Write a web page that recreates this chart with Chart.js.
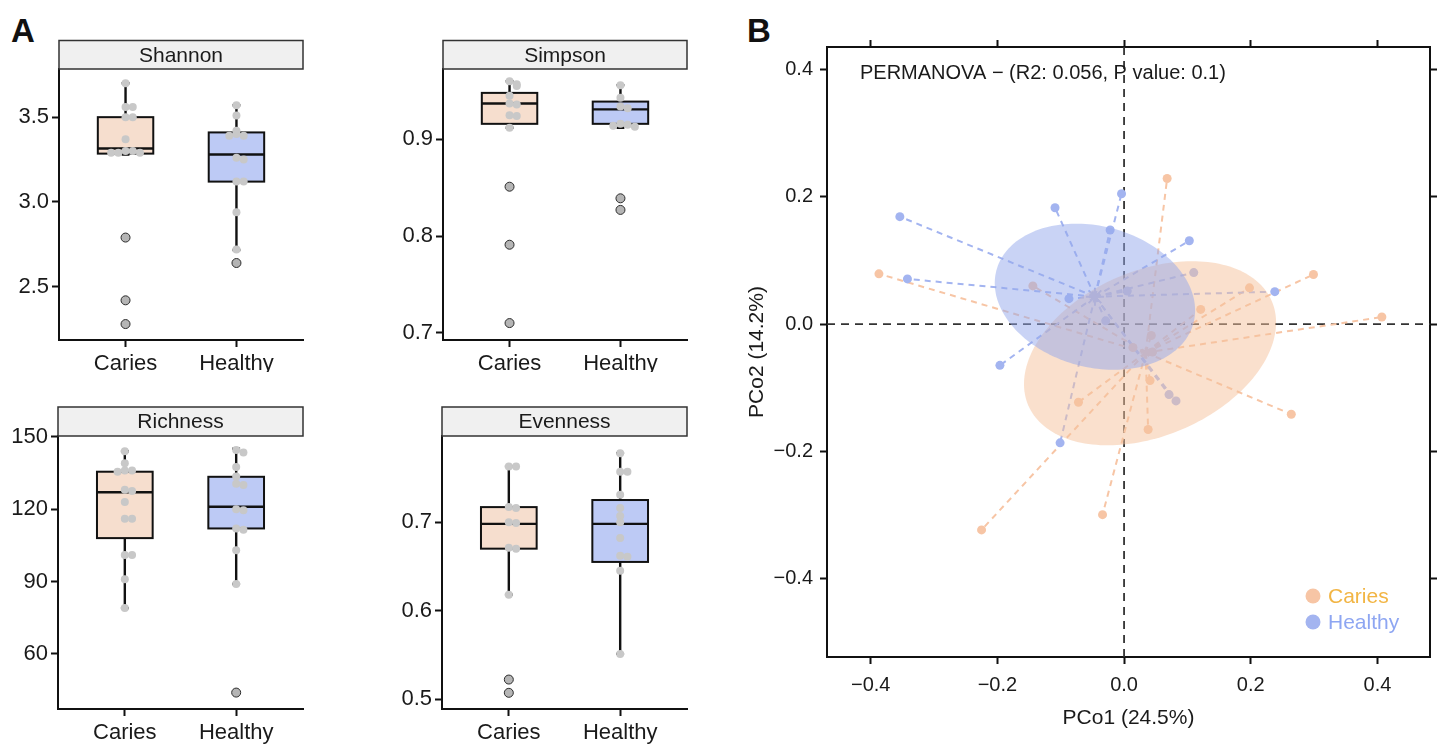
<!DOCTYPE html>
<html>
<head>
<meta charset="utf-8">
<title>Alpha diversity and PCoA</title>
<script src="https://cdn.jsdelivr.net/npm/chart.js"></script>
<style>
  body { margin: 0; background: #fff; width: 1441px; height: 744px; position: relative; overflow: hidden; font-family: "Liberation Sans", Arial, sans-serif; }
  canvas { position: absolute; }
  .tag { position: absolute; font-weight: bold; font-size: 33px; line-height: 1; color: #111; }
</style>
</head>
<body>
<div class="tag" style="left:11px; top:14px;">A</div>
<div class="tag" style="left:747px; top:14px;">B</div>
<canvas id="shannon" width="320" height="372" style="left:0; top:0;"></canvas>
<canvas id="simpson" width="320" height="372" style="left:384px; top:0;"></canvas>
<canvas id="richness" width="320" height="372" style="left:0; top:372px;"></canvas>
<canvas id="evenness" width="320" height="372" style="left:384px; top:372px;"></canvas>
<canvas id="pcoa" width="701" height="744" style="left:740px; top:0;"></canvas>
<script>
    // ---- panel A data: box stats are [lower whisker, Q1, median, Q3, upper whisker]
    const groups = ['Caries', 'Healthy'];

    const shannonTicks = [2.5, 3.0, 3.5];
    const shannonRange = [2.186, 3.784];
    const shannonBox = [[3.28, 3.285, 3.315, 3.50, 3.70], [2.717, 3.12, 3.28, 3.41, 3.57]];
    const shannonCaries = [3.70, 3.56, 3.56, 3.50, 3.50, 3.37, 3.30, 3.30, 3.29, 3.29, 3.29];
    const shannonHealthy = [3.57, 3.51, 3.42, 3.40, 3.39, 3.39, 3.26, 3.25, 3.12, 3.12, 2.94, 2.72];
    const shannonOutCaries = [2.79, 2.42, 2.28];
    const shannonOutHealthy = [2.64];

    const simpsonTicks = [0.7, 0.8, 0.9];
    const simpsonRange = [0.6925, 0.9727];
    const simpsonBox = [[0.912, 0.916, 0.937, 0.948, 0.960], [0.912, 0.916, 0.931, 0.939, 0.956]];
    const simpsonCaries = [0.960, 0.957, 0.955, 0.945, 0.937, 0.936, 0.925, 0.924, 0.912];
    const simpsonHealthy = [0.956, 0.943, 0.934, 0.932, 0.916, 0.915, 0.914, 0.913];
    const simpsonOutCaries = [0.851, 0.791, 0.710];
    const simpsonOutHealthy = [0.839, 0.827];

    const richnessTicks = [60, 90, 120, 150];
    const richnessRange = [37.2, 150.3];
    const richnessBox = [[79, 108, 127, 135.5, 144], [89, 112, 121, 133.4, 145]];
    const richnessCaries = [144, 139, 136, 136, 135.5, 128, 127.5, 123, 116, 116, 101, 101, 91, 79];
    const richnessHealthy = [144.5, 143.5, 137.5, 133.5, 130.5, 130, 120, 119.5, 112, 111.5, 103, 89];
    const richnessOutCaries = [];
    const richnessOutHealthy = [44];

    const evennessTicks = [0.5, 0.6, 0.7];
    const evennessRange = [0.4887, 0.7974];
    const evennessBox = [[0.618, 0.670, 0.698, 0.717, 0.763], [0.551, 0.655, 0.698, 0.725, 0.778]];
    const evennessCaries = [0.763, 0.763, 0.717, 0.716, 0.700, 0.699, 0.671, 0.670, 0.618];
    const evennessHealthy = [0.778, 0.757, 0.757, 0.731, 0.716, 0.707, 0.700, 0.682, 0.662, 0.661, 0.645, 0.551];
    const evennessOutCaries = [0.522, 0.507];
    const evennessOutHealthy = [];

    // ---- panel B data
    const pcoTicks = [-0.4, -0.2, 0.0, 0.2, 0.4];
    const pcoXRange = [-0.469, 0.483];
    const pcoYRange = [-0.524, 0.436];
    const cariesX = [-0.387, -0.144, 0.068, 0.299, 0.198, 0.121, 0.407, 0.043, 0.014, 0.045, 0.041, -0.072, 0.264, 0.038, -0.034, -0.225];
    const cariesY = [0.079, 0.060, 0.229, 0.078, 0.057, 0.023, 0.011, -0.018, -0.037, -0.044, -0.089, -0.123, -0.142, -0.166, -0.300, -0.324];
    const healthyX = [-0.354, -0.342, -0.109, -0.004, -0.022, 0.103, 0.110, 0.238, 0.005, -0.087, -0.029, -0.196, 0.071, 0.082, -0.101];
    const healthyY = [0.169, 0.071, 0.183, 0.205, 0.148, 0.131, 0.081, 0.051, 0.052, 0.040, 0.005, -0.065, -0.111, -0.121, -0.187];
    const centroidX = [0.034, -0.046];
    const centroidY = [-0.045, 0.043];
    // ellipse: [centre x, centre y, semi-major, semi-minor, angle in degrees]
    const ellipses = [[0.041, -0.046, 0.209, 0.130, 23], [-0.046, 0.043, 0.161, 0.111, -15]];
    const permanovaText = 'PERMANOVA \u2212 (R2: 0.056, P value: 0.1)';

    const FONT = '"Liberation Sans", Arial, sans-serif';
    const boxFill = ['#F6DECE', '#BDCAF5'];
    const dotColor = ['#F7C5A5', '#A3B4F0'];
    const ellipseColor = ['rgba(245,193,155,0.5)', 'rgba(147,167,235,0.5)'];
    const legendText = ['#F2B544', '#8EA6F2'];

    function swarm(vals, gi, tol) {
        const placed = [];
        return vals.map(v => {
            const n = placed.filter(p => Math.abs(p - v) < tol).length;
            placed.push(v);
            const k = n === 0 ? 0 : (n % 2 ? 1 : -1) * Math.ceil(n / 2);
            return {x: gi + k * 0.065, y: v};
        });
    }

    function boxPanel(id, title, ticks, digits, range, box, pts, outs, lay) {
        const tol = (range[1] - range[0]) * 0.012;
        const dots = swarm(pts[0], 0, tol).concat(swarm(pts[1], 1, tol));
        const outDots = outs[0].map(v => ({x: 0, y: v})).concat(outs[1].map(v => ({x: 1, y: v})));

        const boxPlugin = {
            id: 'box_' + id,
            beforeDatasetsDraw(chart) {
                const {ctx, scales: {x, y}} = chart;
                ctx.save();
                box.forEach((b, gi) => {
                    const [lo, q1, med, q3, hi] = b;
                    const xc = x.getPixelForValue(gi);
                    const half = x.getPixelForValue(gi + 0.25) - xc;
                    const cap = x.getPixelForValue(gi + 0.035) - xc;
                    ctx.strokeStyle = '#111';
                    ctx.lineWidth = 2.4;
                    ctx.beginPath();
                    ctx.moveTo(xc, y.getPixelForValue(hi));
                    ctx.lineTo(xc, y.getPixelForValue(q3));
                    ctx.moveTo(xc, y.getPixelForValue(q1));
                    ctx.lineTo(xc, y.getPixelForValue(lo));
                    ctx.moveTo(xc - cap, y.getPixelForValue(hi));
                    ctx.lineTo(xc + cap, y.getPixelForValue(hi));
                    ctx.moveTo(xc - cap, y.getPixelForValue(lo));
                    ctx.lineTo(xc + cap, y.getPixelForValue(lo));
                    ctx.stroke();
                    const top = y.getPixelForValue(q3);
                    const bot = y.getPixelForValue(q1);
                    ctx.fillStyle = boxFill[gi];
                    ctx.fillRect(xc - half, top, half * 2, bot - top);
                    ctx.lineWidth = 2;
                    ctx.strokeRect(xc - half, top, half * 2, bot - top);
                    ctx.lineWidth = 2.4;
                    ctx.beginPath();
                    ctx.moveTo(xc - half, y.getPixelForValue(med));
                    ctx.lineTo(xc + half, y.getPixelForValue(med));
                    ctx.stroke();
                });
                ctx.restore();
            },
            afterDraw(chart) {
                const {ctx, chartArea: a} = chart;
                ctx.save();
                ctx.fillStyle = '#F0F0F0';
                ctx.strokeStyle = '#333';
                ctx.lineWidth = 1.5;
                ctx.fillRect(a.left, a.top - lay.strip, a.right - a.left, lay.strip);
                ctx.strokeRect(a.left, a.top - lay.strip, a.right - a.left, lay.strip);
                ctx.fillStyle = '#1a1a1a';
                ctx.font = '21px ' + FONT;
                ctx.textAlign = 'center';
                ctx.textBaseline = 'middle';
                ctx.fillText(title, (a.left + a.right) / 2, a.top - lay.strip / 2 + 1);
                ctx.restore();
            }
        };

        const axisGrid = {drawOnChartArea: false, drawTicks: true, tickLength: 7, tickWidth: 2, tickColor: '#111', color: '#111'};
        const axisBorder = {display: true, color: '#111', width: 2};

        return new Chart(document.getElementById(id), {
            type: 'scatter',
            data: {
                datasets: [{
                    data: dots,
                    backgroundColor: '#C8C8C8',
                    borderWidth: 0,
                    pointRadius: 4
                }, {
                    data: outDots,
                    backgroundColor: '#B5B5B5',
                    borderColor: '#2b2b2b',
                    borderWidth: 1,
                    pointRadius: 4.5
                }]
            },
            options: {
                responsive: false,
                animation: false,
                events: [],
                layout: {padding: {top: lay.top, right: lay.right, left: 0, bottom: 0}},
                plugins: {legend: {display: false}, tooltip: {enabled: false}},
                scales: {
                    x: {
                        type: 'linear', min: -0.6, max: 1.6,
                        afterBuildTicks: s => { s.ticks = [0, 1].map(v => ({value: v})); },
                        afterFit: s => { s.height = lay.xh; },
                        ticks: {callback: v => groups[v], font: {family: FONT, size: 22}, color: '#1a1a1a', padding: 4, maxRotation: 0},
                        grid: axisGrid,
                        border: axisBorder
                    },
                    y: {
                        type: 'linear', min: range[0], max: range[1],
                        afterBuildTicks: s => { s.ticks = ticks.map(v => ({value: v})); },
                        afterFit: s => { s.width = lay.yw; },
                        ticks: {callback: v => v.toFixed(digits), font: {family: FONT, size: 22}, color: '#1a1a1a', padding: 3},
                        grid: axisGrid,
                        border: axisBorder
                    }
                }
            },
            plugins: [boxPlugin]
        });
    }

    const topRow = {top: 69, right: 17, xh: 32, yw: 59, strip: 28.5};
    const botRow = {top: 64, right: 17, xh: 35, yw: 58, strip: 29};

    boxPanel('shannon', 'Shannon', shannonTicks, 1, shannonRange, shannonBox,
        [shannonCaries, shannonHealthy], [shannonOutCaries, shannonOutHealthy], topRow);
    boxPanel('simpson', 'Simpson', simpsonTicks, 1, simpsonRange, simpsonBox,
        [simpsonCaries, simpsonHealthy], [simpsonOutCaries, simpsonOutHealthy], topRow);
    boxPanel('richness', 'Richness', richnessTicks, 0, richnessRange, richnessBox,
        [richnessCaries, richnessHealthy], [richnessOutCaries, richnessOutHealthy], botRow);
    boxPanel('evenness', 'Evenness', evennessTicks, 1, evennessRange, evennessBox,
        [evennessCaries, evennessHealthy], [evennessOutCaries, evennessOutHealthy], botRow);

    // ---- panel B
    const groupX = [cariesX, healthyX];
    const groupY = [cariesY, healthyY];
    const fmtTick = v => (v < 0 ? '\u2212' : '') + Math.abs(v).toFixed(1);

    const pcoaPlugin = {
        id: 'pcoaExtras',
        beforeDatasetsDraw(chart) {
            const {ctx, chartArea: a, scales: {x, y}} = chart;
            ctx.save();
            ctx.setLineDash([8, 6]);
            ctx.strokeStyle = '#333';
            ctx.lineWidth = 1.8;
            ctx.beginPath();
            ctx.moveTo(x.getPixelForValue(0), a.top);
            ctx.lineTo(x.getPixelForValue(0), a.bottom);
            ctx.moveTo(a.left, y.getPixelForValue(0));
            ctx.lineTo(a.right, y.getPixelForValue(0));
            ctx.stroke();
            ctx.setLineDash([6, 5]);
            ctx.lineWidth = 2;
            groupX.forEach((xs, gi) => {
                ctx.strokeStyle = dotColor[gi];
                const cx = x.getPixelForValue(centroidX[gi]);
                const cy = y.getPixelForValue(centroidY[gi]);
                xs.forEach((v, i) => {
                    ctx.beginPath();
                    ctx.moveTo(cx, cy);
                    ctx.lineTo(x.getPixelForValue(v), y.getPixelForValue(groupY[gi][i]));
                    ctx.stroke();
                });
            });
            ctx.restore();
        },
        afterDatasetsDraw(chart) {
            const {ctx, scales: {x, y}} = chart;
            ctx.save();
            ellipses.forEach((e, gi) => {
                const [cx, cy, ra, rb, deg] = e;
                const t = deg * Math.PI / 180;
                ctx.beginPath();
                for (let i = 0; i <= 180; i++) {
                    const p = 2 * Math.PI * i / 180;
                    const ex = cx + ra * Math.cos(p) * Math.cos(t) - rb * Math.sin(p) * Math.sin(t);
                    const ey = cy + ra * Math.cos(p) * Math.sin(t) + rb * Math.sin(p) * Math.cos(t);
                    const px = x.getPixelForValue(ex), py = y.getPixelForValue(ey);
                    if (i === 0) ctx.moveTo(px, py); else ctx.lineTo(px, py);
                }
                ctx.closePath();
                ctx.fillStyle = ellipseColor[gi];
                ctx.fill();
            });
            ctx.restore();
        },
        afterDraw(chart) {
            const {ctx, chartArea: a} = chart;
            ctx.save();
            ctx.font = '20px ' + FONT;
            ctx.fillStyle = '#1a1a1a';
            ctx.textBaseline = 'middle';
            ctx.fillText(permanovaText, a.left + 33, a.top + 26);
            ctx.font = '21px ' + FONT;
            groups.forEach((g, gi) => {
                const ly = a.bottom - 61 + gi * 26;
                ctx.fillStyle = dotColor[gi];
                ctx.beginPath();
                ctx.arc(a.right - 117, ly, 7.5, 0, 2 * Math.PI);
                ctx.fill();
                ctx.fillStyle = legendText[gi];
                ctx.fillText(g, a.right - 102, ly + 1);
            });
            ctx.restore();
        }
    };

    const frameGrid = {drawOnChartArea: false, drawTicks: true, tickLength: 7, tickWidth: 2, tickColor: '#111', color: '#111'};
    const frameBorder = {display: true, color: '#111', width: 2};
    const setTicks = s => { s.ticks = pcoTicks.map(v => ({value: v})); };

    new Chart(document.getElementById('pcoa'), {
        type: 'scatter',
        data: {
            datasets: [{
                data: cariesX.map((v, i) => ({x: v, y: cariesY[i]})),
                backgroundColor: dotColor[0], borderWidth: 0, pointRadius: 4.5
            }, {
                data: healthyX.map((v, i) => ({x: v, y: healthyY[i]})),
                backgroundColor: dotColor[1], borderWidth: 0, pointRadius: 4.5
            }, {
                data: centroidX.map((v, i) => ({x: v, y: centroidY[i]})),
                pointStyle: 'star', pointRadius: [5, 9], borderWidth: 2,
                borderColor: dotColor, backgroundColor: dotColor
            }]
        },
        options: {
            responsive: false,
            animation: false,
            events: [],
            layout: {padding: 0},
            plugins: {legend: {display: false}, tooltip: {enabled: false}},
            scales: {
                x: {
                    type: 'linear', position: 'bottom', min: pcoXRange[0], max: pcoXRange[1],
                    afterBuildTicks: setTicks,
                    afterFit: s => { s.height = 87; },
                    ticks: {callback: fmtTick, font: {family: FONT, size: 20}, color: '#1a1a1a', padding: 9, maxRotation: 0},
                    title: {display: true, text: 'PCo1 (24.5%)', font: {family: FONT, size: 21}, color: '#1a1a1a', padding: {top: 0, bottom: 13}},
                    grid: frameGrid, border: frameBorder
                },
                y: {
                    type: 'linear', position: 'left', min: pcoYRange[0], max: pcoYRange[1],
                    afterBuildTicks: setTicks,
                    afterFit: s => { s.width = 87; },
                    ticks: {callback: fmtTick, font: {family: FONT, size: 20}, color: '#1a1a1a', padding: 7},
                    title: {display: true, text: 'PCo2 (14.2%)', font: {family: FONT, size: 21}, color: '#1a1a1a', padding: {top: 5, bottom: 0}},
                    grid: frameGrid, border: frameBorder
                },
                x2: {
                    type: 'linear', position: 'top', min: pcoXRange[0], max: pcoXRange[1],
                    afterBuildTicks: setTicks,
                    afterFit: s => { s.height = 47; },
                    ticks: {callback: () => ''},
                    grid: frameGrid, border: frameBorder
                },
                y2: {
                    type: 'linear', position: 'right', min: pcoYRange[0], max: pcoYRange[1],
                    afterBuildTicks: setTicks,
                    afterFit: s => { s.width = 9; },
                    ticks: {callback: () => ''},
                    grid: frameGrid, border: frameBorder
                }
            }
        },
        plugins: [pcoaPlugin]
    });
</script>
</body>
</html>
